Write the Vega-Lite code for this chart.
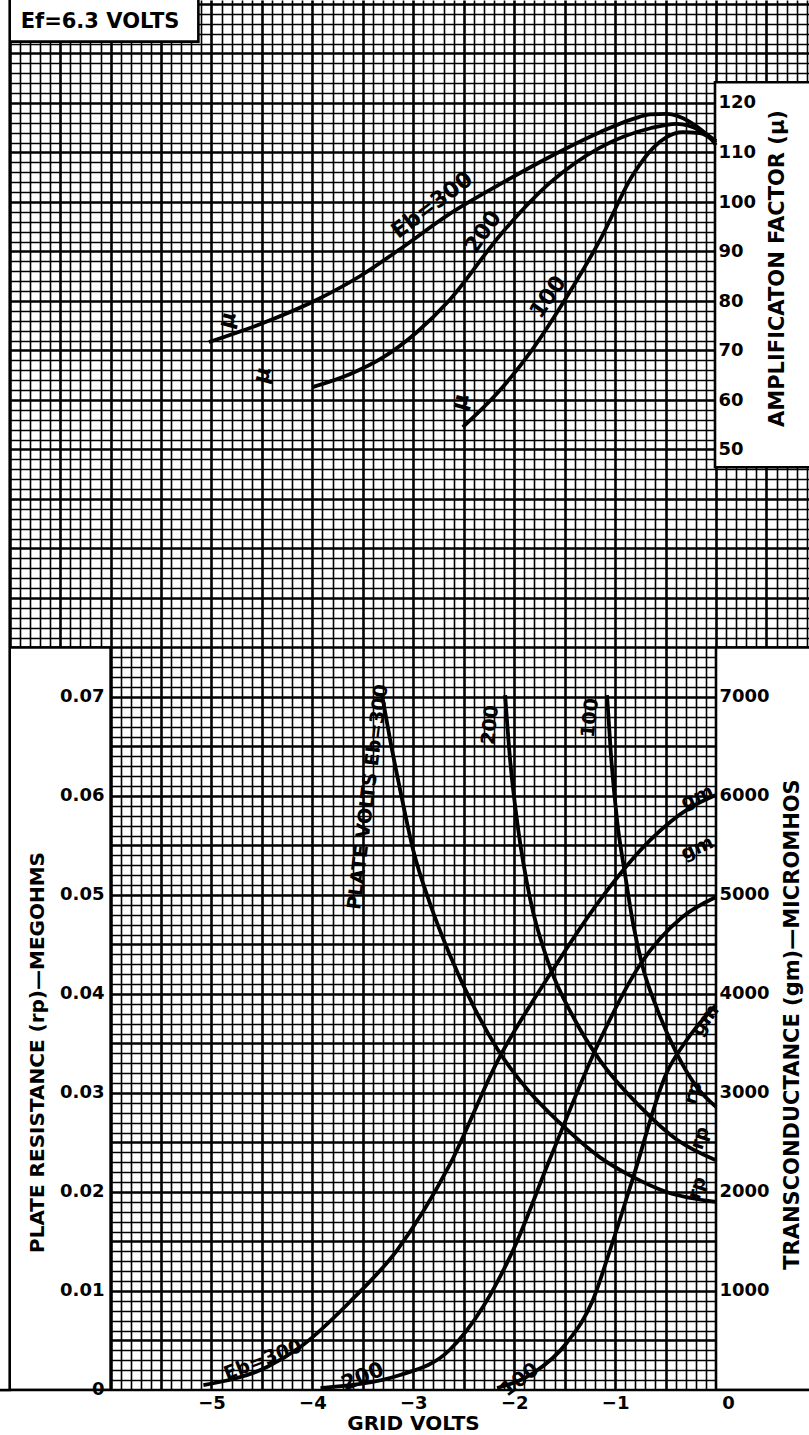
{
  "$schema": "https://vega.github.io/schema/vega-lite/v6.json",
  "width": 809,
  "height": 1435,
  "autosize": {"type": "none"},
  "padding": 0,
  "background": "white",
  "config": {
    "view": {"stroke": null},
    "axis": {"labelFont": "DejaVu Sans", "labelFontWeight": "bold", "labelColor": "black", "titleFont": "DejaVu Sans", "titleFontWeight": "bold", "titleColor": "black", "domain": false, "ticks": false, "tickSize": 0, "grid": false, "labelOverlap": false},
    "text": {"font": "DejaVu Sans", "fontWeight": "bold", "color": "black"}
  },
  "layer": [
    {
      "encoding": {
        "x": {"field": "v", "type": "quantitative", "scale": {"domain": [-7.0961, 0.9217], "nice": false, "zero": false}, "axis": null},
        "y": {"field": "gm", "type": "quantitative", "scale": {"domain": [-454.55, 14040.4], "nice": false, "zero": false}, "axis": null}
      },
      "layer": [
        {
          "data": {"values": [
            {"box": "ef", "v": -7.3, "v2": -5.13, "gm": 13620, "gm2": 14300},
            {"box": "mu", "v": -0.01, "v2": 1.0, "gm": 9320, "gm2": 13210},
            {"box": "lowleft", "v": -7.0, "v2": -6.0, "gm": 0, "gm2": 7500},
            {"box": "lowright", "v": 0, "v2": 1.0, "gm": 0, "gm2": 7500},
            {"box": "bottom", "v": -7.3, "v2": 1.0, "gm": -700, "gm2": 0},
            {"box": "margin", "v": -7.3, "v2": -7.0, "gm": 0, "gm2": 14300}
          ]},
          "mark": {"type": "rect", "fill": "white", "stroke": "black", "strokeWidth": 2.6},
          "encoding": {
            "x": {"field": "v", "type": "quantitative", "scale": {"domain": [-7.0961, 0.9217], "nice": false, "zero": false},
              "axis": {"orient": "bottom", "grid": true, "labels": false, "ticks": false, "domain": false, "title": null, "tickCount": 80, "gridColor": "black", "gridOpacity": 1, "gridWidth": {"condition": {"test": "abs(round(datum.value*10)) % 5 === 0", "value": 2.6}, "value": 1.6}, "zindex": 0}},
            "x2": {"field": "v2"},
            "y": {"field": "gm", "type": "quantitative", "scale": {"domain": [-454.55, 14040.4], "nice": false, "zero": false},
              "axis": {"orient": "left", "grid": true, "labels": false, "ticks": false, "domain": false, "title": null, "tickCount": 145, "gridColor": "black", "gridOpacity": 1, "gridWidth": {"condition": {"test": "abs(round(datum.value/100)) % 5 === 0", "value": 2.6}, "value": 1.6}, "zindex": 0}},
            "y2": {"field": "gm2"}
          }
        },
        {
          "data": {"values": [
            {"eb": 300, "v": -5.08, "gm": 50}, {"eb": 300, "v": -4.45, "gm": 232}, {"eb": 300, "v": -4.12, "gm": 434}, {"eb": 300, "v": -3.63, "gm": 889}, {"eb": 300, "v": -3.16, "gm": 1414}, {"eb": 300, "v": -2.64, "gm": 2273}, {"eb": 300, "v": -2.17, "gm": 3313}, {"eb": 300, "v": -1.65, "gm": 4192}, {"eb": 300, "v": -1.15, "gm": 4949}, {"eb": 300, "v": -0.65, "gm": 5556}, {"eb": 300, "v": -0.26, "gm": 5879}, {"eb": 300, "v": 0, "gm": 6010},
            {"eb": 200, "v": -3.92, "gm": 20}, {"eb": 200, "v": -3.13, "gm": 152}, {"eb": 200, "v": -2.64, "gm": 404}, {"eb": 200, "v": -2.31, "gm": 838}, {"eb": 200, "v": -2.01, "gm": 1414}, {"eb": 200, "v": -1.65, "gm": 2323}, {"eb": 200, "v": -1.15, "gm": 3535}, {"eb": 200, "v": -0.75, "gm": 4300}, {"eb": 200, "v": -0.33, "gm": 4780}, {"eb": 200, "v": 0, "gm": 4980},
            {"eb": 100, "v": -2.17, "gm": 20}, {"eb": 100, "v": -1.81, "gm": 172}, {"eb": 100, "v": -1.48, "gm": 475}, {"eb": 100, "v": -1.22, "gm": 909}, {"eb": 100, "v": -1.05, "gm": 1414}, {"eb": 100, "v": -0.82, "gm": 2150}, {"eb": 100, "v": -0.49, "gm": 3202}, {"eb": 100, "v": -0.29, "gm": 3535}, {"eb": 100, "v": 0, "gm": 3889}
          ]},
          "mark": {"type": "line", "interpolate": "monotone", "strokeWidth": 3.8, "color": "black"},
          "encoding": {
            "x": {"field": "v", "type": "quantitative", "scale": {"domain": [-7.0961, 0.9217], "nice": false, "zero": false},
              "axis": {"orient": "bottom", "offset": -45, "values": [-5, -4, -3, -2, -1, 0], "format": "d", "labelFontSize": 18, "labelPadding": 4, "labelBaseline": "top", "labelOffset": {"condition": {"test": "datum.value === 0", "value": 12}, "value": 0}, "title": "GRID VOLTS", "titleFontSize": 20, "titleX": 413, "titleY": 33, "titleAngle": 0, "titleAlign": "center", "titleBaseline": "middle", "zindex": 2}},
            "y": {"field": "gm", "type": "quantitative", "scale": {"domain": [-454.55, 14040.4], "nice": false, "zero": false},
              "axis": {"orient": "right", "offset": -92, "values": [1000, 2000, 3000, 4000, 5000, 6000, 7000], "format": "d", "labelFontSize": 18, "labelPadding": 2, "labelAlign": "left", "labelBaseline": "middle", "title": "TRANSCONDUCTANCE (gm)—MICROMHOS", "titleFontSize": 21, "titleX": 75, "titleY": 1024, "titleAngle": 270, "titleAlign": "center", "titleBaseline": "middle", "zindex": 2}},
            "detail": {"field": "eb"}
          }
        },
        {
          "data": {"values": [{"v": -6.105, "gm": 13818, "label": "Ef=6.3 VOLTS"}]},
          "mark": {"type": "text", "fontSize": 21},
          "encoding": {"text": {"field": "label"}}
        },
        {
          "data": {"values": [{"v": -3.45, "gm": 5990, "label": "PLATE VOLTS Eb=300"}]},
          "mark": {"type": "text", "fontSize": 19, "angle": -83},
          "encoding": {"text": {"field": "label"}}
        },
        {
          "data": {"values": [{"v": -2.24, "gm": 6717, "label": "200"}, {"v": -1.249, "gm": 6788, "label": "100"}]},
          "mark": {"type": "text", "fontSize": 19, "angle": -84},
          "encoding": {"text": {"field": "label"}}
        },
        {
          "data": {"values": [{"v": -0.188, "gm": 5990, "label": "gm"}, {"v": -0.188, "gm": 5475, "label": "gm"}]},
          "mark": {"type": "text", "fontSize": 19, "angle": -24},
          "encoding": {"text": {"field": "label"}}
        },
        {
          "data": {"values": [{"v": -0.109, "gm": 3737, "label": "gm"}]},
          "mark": {"type": "text", "fontSize": 19, "angle": -55},
          "encoding": {"text": {"field": "label"}}
        },
        {
          "data": {"values": [{"v": -0.228, "gm": 3000, "label": "rp"}, {"v": -0.159, "gm": 2545, "label": "rp"}, {"v": -0.188, "gm": 2040, "label": "rp"}]},
          "mark": {"type": "text", "fontSize": 19, "angle": -72},
          "encoding": {"text": {"field": "label"}}
        },
        {
          "data": {"values": [{"v": -4.49, "gm": 303, "label": "Eb=300"}]},
          "mark": {"type": "text", "fontSize": 19, "angle": -21},
          "encoding": {"text": {"field": "label"}}
        },
        {
          "data": {"values": [{"v": -3.5, "gm": 130, "label": "200"}]},
          "mark": {"type": "text", "fontSize": 21, "angle": -22},
          "encoding": {"text": {"field": "label"}}
        },
        {
          "data": {"values": [{"v": -1.943, "gm": 101, "label": "100"}]},
          "mark": {"type": "text", "fontSize": 20, "angle": -37},
          "encoding": {"text": {"field": "label"}}
        }
      ],
      "resolve": {"axis": {"x": "independent", "y": "independent"}}
    },
    {
      "data": {"values": [
        {"eb": 300, "v": -5.025, "mu": 71.7}, {"eb": 300, "v": -4.52, "mu": 75.3}, {"eb": 300, "v": -3.95, "mu": 80.3}, {"eb": 300, "v": -3.53, "mu": 85.0}, {"eb": 300, "v": -3.13, "mu": 90.5}, {"eb": 300, "v": -2.64, "mu": 97.6}, {"eb": 300, "v": -2.14, "mu": 103.6}, {"eb": 300, "v": -1.65, "mu": 109.1}, {"eb": 300, "v": -1.15, "mu": 114.1}, {"eb": 300, "v": -0.82, "mu": 116.8}, {"eb": 300, "v": -0.65, "mu": 117.7}, {"eb": 300, "v": -0.49, "mu": 117.8}, {"eb": 300, "v": -0.26, "mu": 116.2}, {"eb": 300, "v": -0.04, "mu": 112.5}, {"eb": 300, "v": 0, "mu": 111.5},
        {"eb": 200, "v": -4.0, "mu": 62.6}, {"eb": 200, "v": -3.63, "mu": 65.2}, {"eb": 200, "v": -3.3, "mu": 68.6}, {"eb": 200, "v": -2.96, "mu": 73.8}, {"eb": 200, "v": -2.64, "mu": 80.2}, {"eb": 200, "v": -2.14, "mu": 93.3}, {"eb": 200, "v": -1.65, "mu": 103.8}, {"eb": 200, "v": -1.15, "mu": 111.0}, {"eb": 200, "v": -0.65, "mu": 114.9}, {"eb": 200, "v": -0.39, "mu": 115.8}, {"eb": 200, "v": -0.16, "mu": 114.5}, {"eb": 200, "v": 0, "mu": 112.3},
        {"eb": 100, "v": -2.51, "mu": 54.5}, {"eb": 100, "v": -2.14, "mu": 62.0}, {"eb": 100, "v": -1.81, "mu": 70.5}, {"eb": 100, "v": -1.48, "mu": 80.8}, {"eb": 100, "v": -1.15, "mu": 92.3}, {"eb": 100, "v": -0.82, "mu": 105.6}, {"eb": 100, "v": -0.62, "mu": 111.0}, {"eb": 100, "v": -0.49, "mu": 113.1}, {"eb": 100, "v": -0.33, "mu": 114.1}, {"eb": 100, "v": -0.16, "mu": 113.9}, {"eb": 100, "v": 0, "mu": 112.0}
      ]},
      "mark": {"type": "line", "interpolate": "monotone", "strokeWidth": 3.8, "color": "black"},
      "encoding": {
        "x": {"field": "v", "type": "quantitative", "scale": {"domain": [-7.0961, 0.9217], "nice": false, "zero": false}, "axis": null},
        "y": {"field": "mu", "type": "quantitative", "scale": {"domain": [-149.09, 140.808], "nice": false, "zero": false},
          "axis": {"orient": "right", "offset": -93, "values": [50, 60, 70, 80, 90, 100, 110, 120], "format": "d", "labelFontSize": 18, "labelPadding": 2, "labelAlign": "left", "labelBaseline": "middle", "title": "AMPLIFICATON FACTOR (μ)", "titleFontSize": 21, "titleX": 61, "titleY": 268, "titleAngle": 270, "titleAlign": "center", "titleBaseline": "middle", "zindex": 2}},
        "detail": {"field": "eb"}
      }
    },
    {
      "data": {"values": [
        {"v": -2.815, "mu": 99.39, "label": "Eb=300", "kind": "a"},
        {"v": -2.309, "mu": 93.94, "label": "200", "kind": "b"},
        {"v": -1.665, "mu": 80.81, "label": "100", "kind": "b"},
        {"v": -4.846, "mu": 76.16, "label": "μ", "kind": "c"},
        {"v": -4.499, "mu": 65.05, "label": "μ", "kind": "c"},
        {"v": -2.537, "mu": 59.6, "label": "μ", "kind": "c"}
      ]},
      "encoding": {
        "x": {"field": "v", "type": "quantitative", "scale": {"domain": [-7.0961, 0.9217], "nice": false, "zero": false}, "axis": null},
        "y": {"field": "mu", "type": "quantitative", "scale": {"domain": [-149.09, 140.808], "nice": false, "zero": false}, "axis": null},
        "text": {"field": "label"}
      },
      "layer": [
        {"transform": [{"filter": "datum.kind === 'a'"}], "mark": {"type": "text", "fontSize": 22, "angle": -37}},
        {"transform": [{"filter": "datum.kind === 'b'"}], "mark": {"type": "text", "fontSize": 22, "angle": -55}},
        {"transform": [{"filter": "datum.kind === 'c'"}], "mark": {"type": "text", "fontSize": 22, "angle": -75}}
      ]
    },
    {
      "data": {"values": [
        {"eb": 300, "v": -3.31, "rp": 0.0702}, {"eb": 300, "v": -3.23, "rp": 0.0657}, {"eb": 300, "v": -3.13, "rp": 0.0606}, {"eb": 300, "v": -3.0, "rp": 0.0545}, {"eb": 300, "v": -2.83, "rp": 0.049}, {"eb": 300, "v": -2.64, "rp": 0.044}, {"eb": 300, "v": -2.39, "rp": 0.0385}, {"eb": 300, "v": -2.17, "rp": 0.0345}, {"eb": 300, "v": -1.84, "rp": 0.030}, {"eb": 300, "v": -1.55, "rp": 0.027}, {"eb": 300, "v": -1.15, "rp": 0.0235}, {"eb": 300, "v": -0.82, "rp": 0.0215}, {"eb": 300, "v": -0.49, "rp": 0.020}, {"eb": 300, "v": 0, "rp": 0.019},
        {"eb": 200, "v": -2.09, "rp": 0.0702}, {"eb": 200, "v": -2.04, "rp": 0.0636}, {"eb": 200, "v": -1.96, "rp": 0.0566}, {"eb": 200, "v": -1.84, "rp": 0.0495}, {"eb": 200, "v": -1.67, "rp": 0.0434}, {"eb": 200, "v": -1.4, "rp": 0.0374}, {"eb": 200, "v": -1.15, "rp": 0.0333}, {"eb": 200, "v": -0.75, "rp": 0.0286}, {"eb": 200, "v": -0.39, "rp": 0.0253}, {"eb": 200, "v": 0, "rp": 0.0232},
        {"eb": 100, "v": -1.08, "rp": 0.0702}, {"eb": 100, "v": -1.04, "rp": 0.064}, {"eb": 100, "v": -0.98, "rp": 0.0575}, {"eb": 100, "v": -0.9, "rp": 0.052}, {"eb": 100, "v": -0.82, "rp": 0.047}, {"eb": 100, "v": -0.72, "rp": 0.0425}, {"eb": 100, "v": -0.58, "rp": 0.0384}, {"eb": 100, "v": -0.39, "rp": 0.034}, {"eb": 100, "v": -0.19, "rp": 0.0306}, {"eb": 100, "v": 0, "rp": 0.0286}
      ]},
      "mark": {"type": "line", "interpolate": "monotone", "strokeWidth": 3.8, "color": "black"},
      "encoding": {
        "x": {"field": "v", "type": "quantitative", "scale": {"domain": [-7.0961, 0.9217], "nice": false, "zero": false}, "axis": null},
        "y": {"field": "rp", "type": "quantitative", "scale": {"domain": [-0.0045455, 0.140404], "nice": false, "zero": false},
          "axis": {"orient": "left", "offset": -106, "values": [0, 0.01, 0.02, 0.03, 0.04, 0.05, 0.06, 0.07], "format": ".2~f", "labelFontSize": 18, "labelPadding": 2, "labelAlign": "right", "labelBaseline": "middle", "title": "PLATE RESISTANCE (rp)—MEGOHMS", "titleFontSize": 20, "titleX": -69, "titleY": 1052, "titleAngle": 270, "titleAlign": "center", "titleBaseline": "middle", "zindex": 2}},
        "detail": {"field": "eb"}
      }
    }
  ],
  "resolve": {"scale": {"y": "independent"}, "axis": {"x": "independent", "y": "independent"}}
}
